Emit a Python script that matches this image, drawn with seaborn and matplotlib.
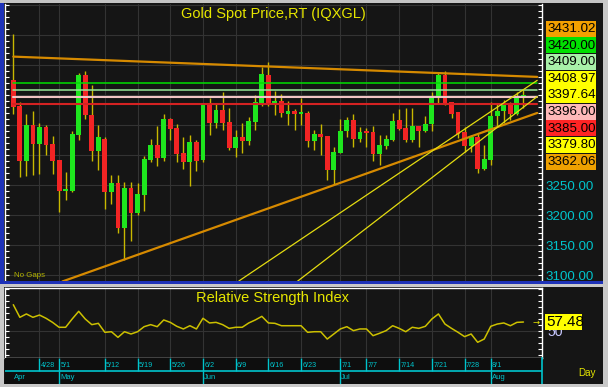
import numpy as np
import pandas as pd
import matplotlib
matplotlib.use("Agg")
import matplotlib.pyplot as plt
import seaborn as sns
from matplotlib import font_manager as fm
from matplotlib.patches import Rectangle
from matplotlib.ticker import MultipleLocator, FixedLocator, FuncFormatter

# ---------------- data ----------------
start_date = "2025-04-22"
end_date = "2025-08-08"

opens = [3425.6, 3382.0, 3289.4, 3350.6, 3318.9, 3346.7, 3318.9, 3291.0, 3240.0, 3240.0,
         3332.8, 3433.9, 3366.0, 3306.0, 3326.7, 3238.3, 3253.3, 3178.8, 3244.5, 3203.9,
         3232.8, 3291.0, 3317.0, 3295.0, 3360.6, 3345.0, 3303.3, 3287.8, 3321.0, 3291.0,
         3382.8, 3353.3, 3374.4, 3354.4, 3311.7, 3329.4, 3323.9, 3355.0, 3385.0, 3433.9,
         3386.7, 3390.6, 3369.0, 3372.8, 3368.9, 3370.0, 3323.9, 3335.0, 3331.0, 3275.6,
         3303.3, 3339.4, 3357.8, 3327.2, 3338.3, 3338.3, 3301.7, 3314.4, 3324.4, 3357.8,
         3345.0, 3325.6, 3348.9, 3339.4, 3352.2, 3396.7, 3433.9, 3388.3, 3371.0, 3337.8,
         3315.6, 3329.4, 3277.2, 3291.0, 3364.4, 3373.3, 3382.8, 3368.9, 3396.7]
highs = [3501.7, 3388.0, 3368.0, 3372.8, 3354.0, 3350.6, 3331.0, 3292.0, 3271.7, 3340.6,
         3436.7, 3440.6, 3416.0, 3350.6, 3329.4, 3267.0, 3267.0, 3255.5, 3255.5, 3253.8,
         3298.9, 3326.7, 3348.9, 3368.3, 3362.0, 3352.2, 3329.4, 3332.8, 3324.4, 3385.0,
         3395.0, 3385.0, 3404.4, 3378.3, 3341.0, 3353.3, 3363.3, 3400.5, 3446.7, 3454.4,
         3406.0, 3402.0, 3390.6, 3376.7, 3395.0, 3372.8, 3341.0, 3352.2, 3331.0, 3313.3,
         3360.6, 3363.3, 3368.3, 3346.7, 3345.0, 3348.9, 3332.8, 3332.8, 3369.4, 3376.7,
         3378.3, 3378.3, 3348.9, 3364.4, 3404.4, 3437.8, 3440.6, 3388.3, 3371.0, 3346.7,
         3332.8, 3335.6, 3317.2, 3388.3, 3386.7, 3392.2, 3388.3, 3404.4, 3408.9]
lows = [3368.3, 3264.0, 3264.4, 3267.0, 3269.0, 3300.5, 3269.0, 3205.0, 3224.4, 3238.0,
        3324.4, 3360.6, 3289.4, 3275.6, 3210.6, 3219.0, 3170.0, 3125.0, 3156.7, 3200.0,
        3206.0, 3288.0, 3282.0, 3289.4, 3325.6, 3287.8, 3277.2, 3247.8, 3273.9, 3289.0,
        3332.8, 3345.0, 3342.2, 3308.9, 3296.0, 3303.3, 3317.0, 3341.0, 3381.0, 3381.0,
        3367.0, 3362.8, 3349.4, 3341.0, 3349.4, 3313.9, 3308.9, 3300.5, 3257.8, 3251.0,
        3303.3, 3329.4, 3313.3, 3322.0, 3313.9, 3289.4, 3283.9, 3310.6, 3322.8, 3341.0,
        3322.0, 3322.0, 3312.8, 3337.8, 3339.4, 3385.6, 3382.8, 3361.7, 3328.3, 3305.0,
        3305.0, 3270.0, 3275.6, 3283.9, 3346.7, 3353.3, 3358.9, 3366.0, 3378.9]
closes = [3380.6, 3289.4, 3350.6, 3318.9, 3346.7, 3317.0, 3289.4, 3240.0, 3243.9, 3335.0,
          3433.9, 3366.0, 3306.0, 3329.4, 3238.3, 3253.3, 3178.8, 3244.5, 3203.9, 3234.5,
          3293.3, 3317.2, 3295.0, 3360.6, 3343.3, 3301.7, 3287.8, 3321.0, 3289.4, 3382.8,
          3353.3, 3374.4, 3353.3, 3311.7, 3329.4, 3323.9, 3356.0, 3388.3, 3435.6, 3385.0,
          3390.6, 3370.0, 3372.8, 3369.0, 3370.5, 3323.9, 3335.0, 3329.4, 3275.6, 3305.0,
          3340.6, 3357.8, 3327.2, 3338.3, 3336.7, 3301.7, 3317.2, 3326.7, 3356.0, 3343.3,
          3325.6, 3348.9, 3339.4, 3352.2, 3396.7, 3433.9, 3383.9, 3368.9, 3335.6, 3315.6,
          3329.4, 3277.2, 3293.3, 3364.4, 3373.9, 3382.8, 3368.9, 3396.7, 3397.64]
rsi = [71.9, 61.4, 64.2, 61.4, 63.3, 60.6, 57.2, 53.1, 53.1, 60.0,
       66.4, 60.0, 55.3, 56.4, 48.9, 49.4, 44.7, 49.4, 47.5, 49.4,
       53.6, 55.3, 53.6, 59.2, 57.2, 53.9, 51.7, 54.4, 51.7, 60.6,
       56.7, 57.2, 55.3, 52.2, 53.1, 53.1, 56.7, 59.2, 62.2, 56.7,
       56.4, 54.4, 54.4, 54.4, 54.4, 48.9, 49.4, 49.4, 43.3, 47.5,
       51.7, 53.6, 50.3, 51.7, 51.7, 46.1, 48.1, 50.3, 54.4, 52.2,
       49.4, 53.1, 52.2, 53.9, 60.0, 64.2, 55.8, 52.2, 48.9, 45.3,
       47.5, 40.6, 43.3, 53.9, 55.8, 56.7, 54.4, 57.2, 57.48]

date_tick_labels = ["4/28", "5/1", "5/12", "5/19", "5/26", "6/2", "6/9", "6/16",
                    "6/23", "7/1", "7/7", "7/14", "7/21", "7/28", "8/1"]
month_labels = ["Apr", "May", "Jun", "Jul", "Aug"]

level_values = [3420.00, 3409.00, 3396.00, 3385.00]
level_colors = ["#00e000", "#98e898", "#f2c4c4", "#d42222"]
level_widths = [1.1, 1.1, 1.5, 1.5]

# trend lines: (bar index, price) end points
resist_x, resist_y = [0, 80.1], [3464.0, 3430.2]
support_x, support_y = [7.5, 80.1], [3089.2, 3370.1]
chanA_x, chanA_y = [34.5, 80.1], [3090.1, 3424.4]
chanB_x, chanB_y = [43.0, 80.1], [3085.8, 3397.4]

box_values = [3431.02, 3420.00, 3409.00, 3408.97, 3397.64, 3396.00, 3385.00, 3379.80, 3362.06]
box_colors = ["#f2a000", "#00e000", "#a8f0a8", "#ffff00", "#ffff00",
              "#ffb8b8", "#ff2424", "#ffff00", "#eea000"]
price_label_ticks = [3100, 3150, 3200, 3250]
rsi_last = 57.48

# ---------------- style ----------------
sns.set_theme(style="dark")
names = {f.name for f in fm.fontManager.ttflist}
if "Liberation Sans Narrow" in names:
    FAM = ["Liberation Sans Narrow", "DejaVu Sans"]
    FS = 1.0
else:
    FAM = ["Liberation Sans", "DejaVu Sans"]
    FS = 0.84
plt.rcParams["font.family"] = FAM

BG = "#151515"
GRID = "#333333"
CYAN = "#00c4cc"
YEL = "#e6e600"

W, H = 608, 387
fig = plt.figure(figsize=(W / 100, H / 100), dpi=100, facecolor=BG)


def px_rect(x0, y0, x1, y1):
    return [x0 / W, 1 - y1 / H, (x1 - x0) / W, (y1 - y0) / H]


dates = pd.bdate_range(start_date, end_date)
idx = np.arange(len(dates))
lookup = {f"{d.month}/{d.day}": i for i, d in enumerate(dates)}
tick_idx = [lookup[l] for l in date_tick_labels]
month_idx = [0] + [i for i in range(1, len(dates)) if dates[i].month != dates[i - 1].month]

XL = (-1.27, 80.76)

# ---------------- main price panel ----------------
ax = fig.add_axes(px_rect(5, 4, 541.5, 281))
ax.set_facecolor(BG)
ax.set_xlim(*XL)
ax.set_ylim(3090, 3551.7)

o = np.array(opens); c = np.array(closes); hi = np.array(highs); lo = np.array(lows)
up = c >= o
ax.vlines(idx, lo, hi, color="#c8b800", lw=1.0, zorder=3)
body_bottom = np.minimum(o, c)
body_h = np.maximum(np.abs(c - o), 2.5)
ax.bar(idx[up], body_h[up], bottom=body_bottom[up], width=0.74, color="#1ee61e", lw=0, zorder=4)
ax.bar(idx[~up], body_h[~up], bottom=body_bottom[~up], width=0.74, color="#f22424", lw=0, zorder=4)

for v, col, lw in zip(level_values, level_colors, level_widths):
    sns.lineplot(x=[0, 80.1], y=[v, v], ax=ax, color=col, lw=lw, zorder=5)
sns.lineplot(x=resist_x, y=resist_y, ax=ax, color="#d68a00", lw=1.6, zorder=5)
sns.lineplot(x=support_x, y=support_y, ax=ax, color="#d68a00", lw=1.6, zorder=5)
sns.lineplot(x=chanA_x, y=chanA_y, ax=ax, color="#e4dc10", lw=0.9, zorder=6)
sns.lineplot(x=chanB_x, y=chanB_y, ax=ax, color="#e4dc10", lw=0.9, zorder=6)

ax.yaxis.set_major_locator(FixedLocator(np.arange(3100, 3551, 50)))
ax.yaxis.set_major_formatter(FuncFormatter(lambda v, p: f"{v:.2f}" if round(v) in price_label_ticks else ""))
ax.yaxis.set_minor_locator(MultipleLocator(10))
ax.set_xticks(tick_idx)
ax.tick_params(axis="x", length=0, labelbottom=False)
ax.tick_params(axis="y", which="both", left=True, right=True, labelleft=False, labelright=True,
               direction="in", color="white", width=0.8, length=3, labelcolor=CYAN,
               labelsize=11.5 * FS, pad=3, labelfontfamily=FAM)
ax.grid(True, which="major", color=GRID, lw=0.8)
ax.set_xlabel(""); ax.set_ylabel("")
for s in ["top", "bottom"]:
    ax.spines[s].set_visible(False)
for s in ["left", "right"]:
    ax.spines[s].set_color("white"); ax.spines[s].set_linewidth(1.0)

# ---------------- RSI panel ----------------
axr = fig.add_axes(px_rect(5, 288, 541.5, 358))
axr.set_facecolor(BG)
sns.lineplot(x=idx, y=rsi, ax=axr, color="#ccc000", lw=1.1, zorder=3)
axr.set_xlim(*XL)
axr.set_ylim(27.5, 85.83)
axr.set_yticks([50])
axr.yaxis.set_minor_locator(MultipleLocator(5))
axr.set_xticks(tick_idx)
axr.tick_params(axis="x", length=0, labelbottom=False)
axr.tick_params(axis="y", which="both", left=True, right=True, labelleft=False, labelright=True,
                direction="in", color="white", width=0.8, length=3, labelcolor="#c8c8ff",
                labelsize=12 * FS, pad=4, labelfontfamily=FAM)
axr.grid(True, which="major", color=GRID, lw=0.8)
axr.set_xlabel(""); axr.set_ylabel("")
for s in axr.spines.values():
    s.set_color("white"); s.set_linewidth(1.0)

# ---------------- date axis ----------------
axd = fig.add_axes(px_rect(5, 358, 541.5, 384))
axd.set_facecolor("#0e0e0e")
axd.set_xlim(*XL)
axd.set_ylim(0, 1)
axd.set_xticks([]); axd.set_yticks([])
for s in ["top", "left", "bottom"]:
    axd.spines[s].set_visible(False)
axd.spines["right"].set_color(CYAN); axd.spines["right"].set_linewidth(1.2)
axd.axhline(0.5, color=CYAN, lw=1.2)
axd.vlines(tick_idx, 0.5, 1.0, color=CYAN, lw=1.0)
axd.vlines(month_idx[1:], 0.0, 0.5, color=CYAN, lw=1.0)
for i, lab in zip(tick_idx, date_tick_labels):
    axd.text(i + 0.2, 0.71, lab, color=CYAN, fontsize=6.2 * FS, ha="left", va="center")
for k, (i, lab) in enumerate(zip(month_idx, month_labels)):
    axd.text(i + (0.15 if k else 0.1), 0.24, lab, color=CYAN, fontsize=6.6 * FS, ha="left", va="center")

# ---------------- overlay (frame, labels, titles) ----------------
ov = fig.add_axes([0, 0, 1, 1], zorder=10)
ov.set_xlim(0, W); ov.set_ylim(H, 0); ov.axis("off")
ov.patch.set_alpha(0)

ov.add_patch(Rectangle((0, 0), W, 3, color="#c4c4c4", lw=0))
ov.add_patch(Rectangle((0, 3), 4, 278, color="#1e32b8", lw=0))
ov.add_patch(Rectangle((0, 281), W, 3, color="#1e32b8", lw=0))
ov.add_patch(Rectangle((0, 284), W, 3, color="#c8c8c8", lw=0))
ov.add_patch(Rectangle((0, 287), 4, 100, color="#c8c8c8", lw=0))
ov.add_patch(Rectangle((603, 0), 5, H, color="#c8c8c8", lw=0))
ov.add_patch(Rectangle((0, 384), W, 3, color="#c8c8c8", lw=0))

ov.text(273, 14, "Gold Spot Price,RT (IQXGL)", color=YEL, fontsize=12.5 * FS, ha="center", va="center")
ov.text(273, 298, "Relative Strength Index", color=YEL, fontsize=12.5 * FS, ha="center", va="center")
ov.text(14, 275.5, "No Gaps", color="#b4b400", fontsize=6.8 * FS, ha="left", va="center")
ov.text(587, 373, "Day", color=YEL, fontsize=8.5 * FS, ha="center", va="center")

top0, bh = 20.8, 16.6
for k, (v, col) in enumerate(zip(box_values, box_colors)):
    y0 = top0 + k * bh
    ov.add_patch(Rectangle((546, y0), 50, bh - 0.6, color=col, lw=0))
    ov.text(547.5, y0 + bh / 2, f"{v:.2f}", color="black", fontsize=11.5 * FS, ha="left", va="center")

ov.add_patch(Rectangle((545, 313.5), 36.5, 16, color="#ffff00", lw=0))
ov.text(546, 321.5, f"{rsi_last:.2f}", color="black", fontsize=13 * FS, ha="left", va="center")
ov.text(536, 322.5, "→", color=YEL, fontsize=6, ha="center", va="center", family="DejaVu Sans")

fig.savefig("out.png", dpi=100, facecolor=BG)
